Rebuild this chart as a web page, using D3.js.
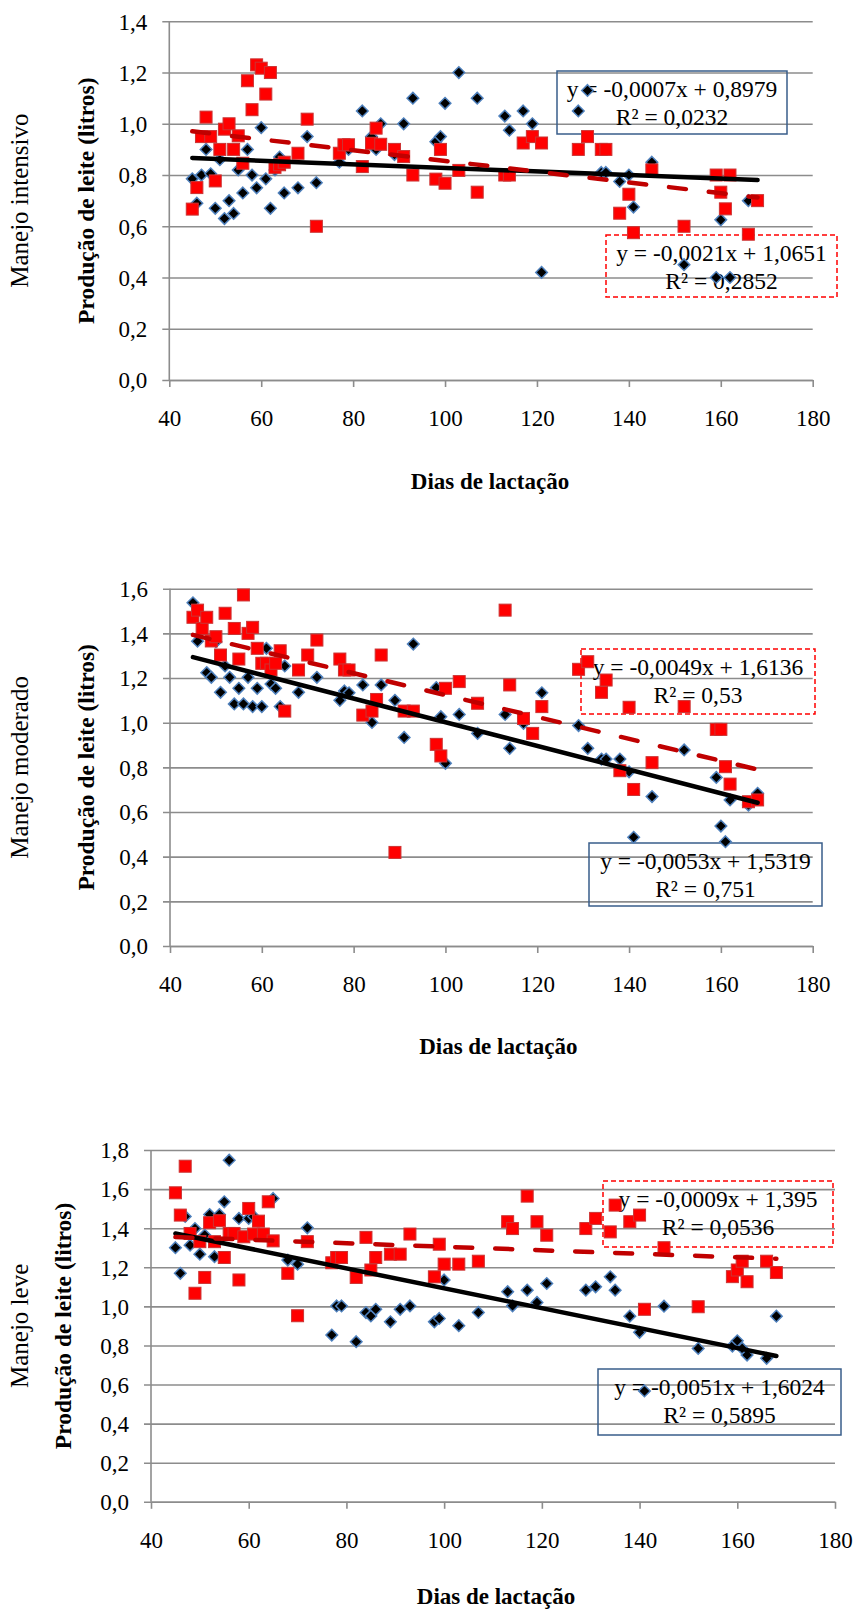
<!DOCTYPE html>
<html>
<head>
<meta charset="utf-8">
<script src="https://cdnjs.cloudflare.com/ajax/libs/d3/7.8.5/d3.min.js"></script>
<style>
body { margin: 0; background: #ffffff; }
</style>
</head>
<body>
<div class="chart"></div>
<script>
var w = 858;
var h = 1612;
var svg;
var colorGrid = "#8c8c8c";
var colorDiamond = "#000000";
var colorDiamondLine = "#4f81bd";
var colorSquare = "#ff0000";
var colorSquareLine = "#cc3333";
var colorTrend = "#000000";
var colorTrendRed = "#c00000";
var colorBoxBlue = "#385d8a";
var colorBoxRed = "#ff0000";
var fontSerif = "'Liberation Serif', 'Times New Roman', serif";

var xTicks = [40, 60, 80, 100, 120, 140, 160, 180];
var trendRange = [45, 168];

// Manejo intensivo
var intDiaDays = [45,46,47,48,49,50,51,52,53,54,55,56,57,58,59,60,61,62,63,64,65,68,70,72,77,79,82,84,85,86,89,91,93,98,99,100,103,107,113,114,117,119,121,129,131,134,135,138,140,141,145,152,159,160,162,166];
var intDiaVals = [0.785,0.69,0.80,0.90,0.805,0.67,0.86,0.63,0.70,0.65,0.82,0.73,0.90,0.80,0.75,0.985,0.785,0.67,0.82,0.87,0.73,0.75,0.95,0.77,0.85,0.90,1.05,0.95,0.90,1.0,0.88,1.0,1.10,0.93,0.95,1.08,1.20,1.10,1.03,0.975,1.05,1.0,0.42,1.05,1.13,0.81,0.81,0.775,0.80,0.675,0.85,0.45,0.40,0.625,0.40,0.70];
var intSqDays = [45,46,47,48,49,50,51,52,53,54,55,56,57,58,59,60,61,62,63,64,65,68,70,72,77,78,79,82,84,85,86,89,91,93,98,99,100,103,107,113,114,117,119,121,129,131,134,135,138,140,141,145,152,159,160,161,162,166,168];
var intSqVals = [0.667,0.751,0.95,1.026,0.95,0.777,0.90,0.979,1.0,0.90,0.953,0.846,1.168,1.055,1.23,1.217,1.116,1.20,0.83,0.84,0.85,0.885,1.018,0.60,0.885,0.918,0.918,0.833,0.924,0.983,0.92,0.90,0.872,0.80,0.784,0.90,0.768,0.818,0.733,0.80,0.80,0.925,0.95,0.925,0.90,0.95,0.90,0.90,0.651,0.725,0.575,0.82,0.60,0.80,0.733,0.668,0.80,0.569,0.70];
var intTrendDia = [-0.0007, 0.8979];
var intTrendSq = [-0.0021, 1.0651];
var intTextDia = ["y = -0,0007x + 0,8979", "R² = 0,0232"];
var intTextSq = ["y = -0,0021x + 1,0651", "R² = 0,2852"];
var intYTicks = [0, 0.2, 0.4, 0.6, 0.8, 1.0, 1.2, 1.4];

// Manejo moderado
var modDiaDays = [45,46,48,49,50,51,52,53,54,55,56,57,58,59,60,61,62,63,64,65,68,72,77,78,79,82,84,86,89,91,93,98,99,100,103,107,113,114,117,121,129,131,134,135,138,140,141,145,152,159,160,161,162,166,168];
var modDiaVals = [1.537,1.365,1.224,1.203,1.363,1.136,1.254,1.203,1.084,1.154,1.084,1.203,1.072,1.154,1.072,1.333,1.173,1.154,1.072,1.254,1.136,1.203,1.10,1.142,1.134,1.169,1.001,1.169,1.10,0.934,1.352,1.157,1.027,0.818,1.037,0.952,1.037,0.885,0.997,1.134,0.987,0.885,0.837,0.837,0.837,0.78,0.487,0.669,0.878,0.755,0.537,0.467,0.654,0.631,0.684];
var modSqDays = [45,46,47,48,49,50,51,52,54,55,56,57,58,59,60,61,62,63,64,65,68,70,72,77,78,79,82,84,85,86,89,91,93,98,99,100,103,107,113,114,117,119,121,129,131,134,135,138,140,141,145,152,159,160,161,162,166,168];
var modSqVals = [1.472,1.504,1.422,1.472,1.366,1.385,1.303,1.49,1.422,1.285,1.572,1.40,1.427,1.333,1.266,1.266,1.236,1.266,1.322,1.052,1.236,1.303,1.37,1.285,1.236,1.236,1.034,1.052,1.104,1.303,0.419,1.052,1.052,0.903,0.851,1.154,1.184,1.087,1.504,1.169,1.019,0.952,1.072,1.239,1.273,1.136,1.191,0.785,1.069,0.701,0.821,1.072,0.970,0.970,0.803,0.725,0.646,0.654];
var modTrendDia = [-0.0053, 1.5319];
var modTrendSq = [-0.0049, 1.6136];
var modTextDia = ["y = -0,0053x + 1,5319", "R² = 0,751"];
var modTextSq = ["y = -0,0049x + 1,6136", "R² = 0,53"];
var modYTicks = [0, 0.2, 0.4, 0.6, 0.8, 1.0, 1.2, 1.4, 1.6];

// Manejo leve
var levDiaDays = [45,46,47,48,49,50,51,52,53,54,55,56,58,60,61,65,68,70,72,77,78,79,82,84,85,86,89,91,93,98,99,100,103,107,113,114,117,119,121,129,131,134,135,138,140,141,145,152,159,160,161,162,166,168];
var levDiaVals = [1.30,1.169,1.46,1.313,1.398,1.267,1.365,1.47,1.254,1.47,1.535,1.748,1.45,1.45,1.46,1.552,1.237,1.216,1.402,0.853,1.002,1.002,0.819,0.968,0.951,0.985,0.921,0.985,1.002,0.921,0.938,1.135,0.901,0.969,1.075,1.003,1.083,1.02,1.117,1.083,1.10,1.151,1.083,0.95,0.867,0.567,1.001,0.785,0.797,0.824,0.785,0.751,0.734,0.95];
var levSqDays = [45,46,47,48,49,50,51,52,53,54,55,56,57,58,59,60,61,62,63,64,65,68,70,72,77,78,79,82,84,85,86,89,91,93,98,99,100,103,107,113,114,117,119,121,129,131,134,135,138,140,141,145,152,159,160,161,162,166,168];
var levSqVals = [1.581,1.467,1.717,1.373,1.067,1.331,1.148,1.428,1.331,1.438,1.25,1.373,1.373,1.135,1.356,1.501,1.37,1.436,1.37,1.535,1.335,1.169,0.952,1.331,1.223,1.25,1.25,1.148,1.353,1.186,1.25,1.267,1.267,1.37,1.151,1.318,1.216,1.216,1.231,1.433,1.398,1.564,1.433,1.364,1.398,1.45,1.381,1.518,1.433,1.467,0.985,1.30,0.998,1.152,1.186,1.231,1.126,1.231,1.173];
var levTrendDia = [-0.0051, 1.6024];
var levTrendSq = [-0.0009, 1.395];
var levTextDia = ["y = -0,0051x + 1,6024", "R² = 0,5895"];
var levTextSq = ["y = -0,0009x + 1,395", "R² = 0,0536"];
var levYTicks = [0, 0.2, 0.4, 0.6, 0.8, 1.0, 1.2, 1.4, 1.6, 1.8];

var yTitle = "Produção de leite (litros)";
var xTitle = "Dias de lactação";

svg = d3.select(".chart")
	.append("svg")
	.attr("width", w)
	.attr("height", h)
	.style("background", "#ffffff");

drawPanel({
	name: "Manejo intensivo",
	left: 169.3, right: 812.7, top: 21.3, bottom: 380,
	yTicks: intYTicks, yTitleX: 93.5, nameX: 28, xTitleDy: 109, xTitleShift: -1,
	diaDays: intDiaDays, diaVals: intDiaVals, sqDays: intSqDays, sqVals: intSqVals,
	trendDia: intTrendDia, trendSq: intTrendSq,
	textDia: intTextDia, textSq: intTextSq,
	boxDia: [557, 71, 230, 63], boxSq: [606, 235, 231, 62]
});

drawPanel({
	name: "Manejo moderado",
	left: 170, right: 812.7, top: 588.7, bottom: 946,
	yTicks: modYTicks, yTitleX: 93.5, nameX: 28, xTitleDy: 108, xTitleShift: 7,
	diaDays: modDiaDays, diaVals: modDiaVals, sqDays: modSqDays, sqVals: modSqVals,
	trendDia: modTrendDia, trendSq: modTrendSq,
	textDia: modTextDia, textSq: modTextSq,
	boxDia: [589, 843, 233, 63], boxSq: [581, 649, 234, 65]
});

drawPanel({
	name: "Manejo leve",
	left: 151, right: 835, top: 1150, bottom: 1501.8,
	yTicks: levYTicks, yTitleX: 70.5, nameX: 28, xTitleDy: 102, xTitleShift: 3,
	diaDays: levDiaDays, diaVals: levDiaVals, sqDays: levSqDays, sqVals: levSqVals,
	trendDia: levTrendDia, trendSq: levTrendSq,
	textDia: levTextDia, textSq: levTextSq,
	boxDia: [598, 1369, 243, 66], boxSq: [603, 1181, 230, 66]
});

function fmt(v) {
	return d3.format(".1f")(v).replace(".", ",");
}

function drawPanel(p) {
	var yMax = p.yTicks[p.yTicks.length - 1];
	var x = d3.scaleLinear().domain([40, 180]).range([p.left, p.right]);
	var y = d3.scaleLinear().domain([0, yMax]).range([p.bottom, p.top]);
	var g = svg.append("g");

	// gridlines + y axis
	var yAxis = d3.axisLeft(y)
		.tickValues(p.yTicks)
		.tickSize(-(p.right - p.left))
		.tickSizeOuter(0)
		.tickPadding(22)
		.tickFormat(fmt);
	var ya = g.append("g")
		.attr("transform", "translate(" + p.left + ",0)")
		.call(yAxis);
	ya.select(".domain").remove();
	ya.selectAll(".tick line")
		.attr("x1", -7)
		.attr("stroke", colorGrid)
		.attr("stroke-width", 1.6);
	ya.selectAll(".tick text")
		.attr("font-family", fontSerif)
		.attr("font-size", "23px")
		.attr("fill", "#000000")
		.attr("dy", "0.34em");

	g.append("line")
		.attr("x1", p.left)
		.attr("x2", p.left)
		.attr("y1", p.top)
		.attr("y2", p.bottom)
		.attr("stroke", colorGrid)
		.attr("stroke-width", 1.6);

	// x axis
	var xAxis = d3.axisBottom(x)
		.tickValues(xTicks)
		.tickSize(7)
		.tickSizeOuter(0)
		.tickPadding(23);
	var xa = g.append("g")
		.attr("transform", "translate(0," + p.bottom + ")")
		.call(xAxis);
	xa.select(".domain")
		.attr("stroke", colorGrid)
		.attr("stroke-width", 1.6);
	xa.selectAll(".tick line")
		.attr("stroke", colorGrid)
		.attr("stroke-width", 1.6);
	xa.selectAll(".tick text")
		.attr("font-family", fontSerif)
		.attr("font-size", "23px")
		.attr("fill", "#000000");

	// titles
	g.append("text")
		.attr("x", (p.left + p.right) / 2 + p.xTitleShift)
		.attr("y", p.bottom + p.xTitleDy)
		.attr("text-anchor", "middle")
		.attr("font-family", fontSerif)
		.attr("font-weight", "bold")
		.attr("font-size", "23px")
		.text(xTitle);

	g.append("text")
		.attr("transform", "translate(" + p.yTitleX + "," + (p.top + p.bottom) / 2 + ") rotate(-90)")
		.attr("text-anchor", "middle")
		.attr("font-family", fontSerif)
		.attr("font-weight", "bold")
		.attr("font-size", "23.5px")
		.text(yTitle);

	g.append("text")
		.attr("transform", "translate(" + p.nameX + "," + (p.top + p.bottom) / 2 + ") rotate(-90)")
		.attr("text-anchor", "middle")
		.attr("font-family", fontSerif)
		.attr("font-size", "25px")
		.text(p.name);

	// equation boxes
	drawBox(g, p.boxDia, p.textDia, colorBoxBlue, null);
	drawBox(g, p.boxSq, p.textSq, colorBoxRed, "5,3");

	// diamonds
	var dia = d3.zip(p.diaDays, p.diaVals);
	g.append("g").selectAll("path")
		.data(dia)
		.enter()
		.append("path")
		.attr("transform", function(d) { return "translate(" + x(d[0]) + "," + y(d[1]) + ")"; })
		.attr("d", "M0,-5.8L5.8,0L0,5.8L-5.8,0Z")
		.attr("fill", colorDiamond)
		.attr("stroke", colorDiamondLine)
		.attr("stroke-width", 1.5);

	// squares
	var sq = d3.zip(p.sqDays, p.sqVals);
	g.append("g").selectAll("rect")
		.data(sq)
		.enter()
		.append("rect")
		.attr("x", function(d) { return x(d[0]) - 6; })
		.attr("y", function(d) { return y(d[1]) - 6; })
		.attr("width", 12)
		.attr("height", 12)
		.attr("fill", colorSquare)
		.attr("stroke", colorSquareLine)
		.attr("stroke-width", 1);

	// trend lines
	var line = d3.line()
		.x(function(d) { return x(d[0]); })
		.y(function(d) { return y(d[1]); });

	g.append("path")
		.datum(trendRange.map(function(t) { return [t, p.trendDia[0] * t + p.trendDia[1]]; }))
		.attr("d", line)
		.attr("fill", "none")
		.attr("stroke", colorTrend)
		.attr("stroke-width", 4.5)
		.attr("stroke-linecap", "round");

	g.append("path")
		.datum(trendRange.map(function(t) { return [t, p.trendSq[0] * t + p.trendSq[1]]; }))
		.attr("d", line)
		.attr("fill", "none")
		.attr("stroke", colorTrendRed)
		.attr("stroke-width", 4.5)
		.attr("stroke-linecap", "round")
		.attr("stroke-dasharray", "17,23");
}

function drawBox(g, b, lines, color, dash) {
	var box = g.append("g");
	box.append("rect")
		.attr("x", b[0])
		.attr("y", b[1])
		.attr("width", b[2])
		.attr("height", b[3])
		.attr("fill", "none")
		.attr("stroke", color)
		.attr("stroke-width", 1.5)
		.attr("stroke-dasharray", dash);
	box.selectAll("text")
		.data(lines)
		.enter()
		.append("text")
		.attr("x", b[0] + b[2] / 2)
		.attr("y", function(d, i) { return b[1] + 26 + i * 27.5; })
		.attr("text-anchor", "middle")
		.attr("font-family", fontSerif)
		.attr("font-size", "23.5px")
		.attr("fill", "#000000")
		.text(function(d) { return d; });
}
</script>
</body>
</html>
